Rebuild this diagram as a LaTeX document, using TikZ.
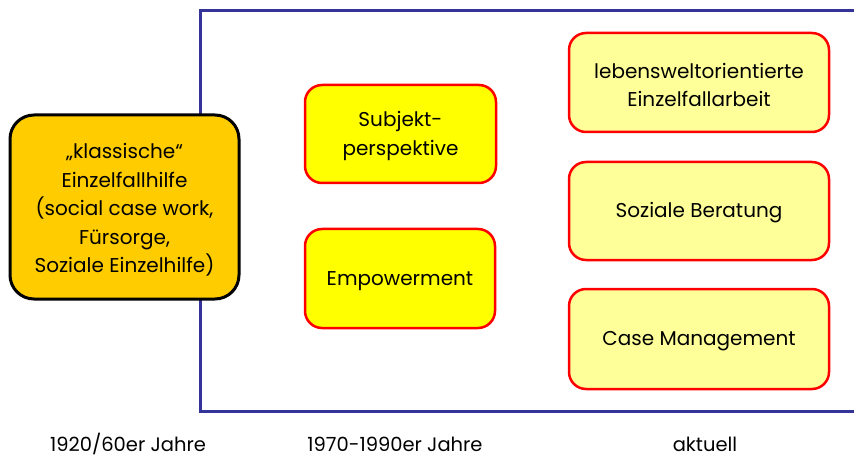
\documentclass[tikz,border=0pt]{standalone}
\usepackage{fontspec}
\setmainfont{Poppins}
\begin{document}
\begin{tikzpicture}[x=1pt,y=-1pt,
  every node/.style={font=\fontsize{20}{28.5}\selectfont, align=center, text=black},
  classic/.style={draw=black, line width=3pt, fill=classicfill, rounded corners=24pt},
  midbox/.style={draw=red, line width=2.5pt, fill=midfill, rounded corners=17pt},
  nowbox/.style={draw=red, line width=2.5pt, fill=nowfill, rounded corners=17pt},
  era/.style={font=\fontsize{19.5}{22}\selectfont}]
\definecolor{classicfill}{HTML}{FFCC00}
\definecolor{midfill}{HTML}{FFFF00}
\definecolor{nowfill}{HTML}{FFFF99}
\definecolor{framecol}{HTML}{333399}
\useasboundingbox (0,0) rectangle (854,457);

% period frame, open to the right
\draw[framecol, line width=3pt] (880,11) -- (200,11) -- (200,411) -- (880,411);

% boxes
\draw[classic] (10,115) rectangle (239,299);
\node (classic) at (124.5,210) {„klassische“\\Einzelfallhilfe\\(social case work,\\Fürsorge,\\Soziale Einzelhilfe)};

\draw[midbox] (305,85) rectangle (496,183);
\node (subj) at (400.5,136) {Subjekt-\\perspektive};
\draw[midbox] (305,229) rectangle (495,328);
\node (empow) at (400,281) {Empowerment};

\draw[nowbox] (569,33) rectangle (829,132);
\node (lwo) at (699,85) {lebensweltorientierte\\Einzelfallarbeit};
\draw[nowbox] (569,162) rectangle (829,260);
\node (berat) at (699,213) {Soziale Beratung};
\draw[nowbox] (569,289) rectangle (829,389);
\node (cm) at (699,341) {Case Management};

% period labels
\node[era] (p1) at (128,444) {1920/60er Jahre};
\node[era] (p2) at (395,444) {1970-1990er Jahre};
\node[era] (p3) at (705,444) {aktuell};
\end{tikzpicture}
\end{document}
